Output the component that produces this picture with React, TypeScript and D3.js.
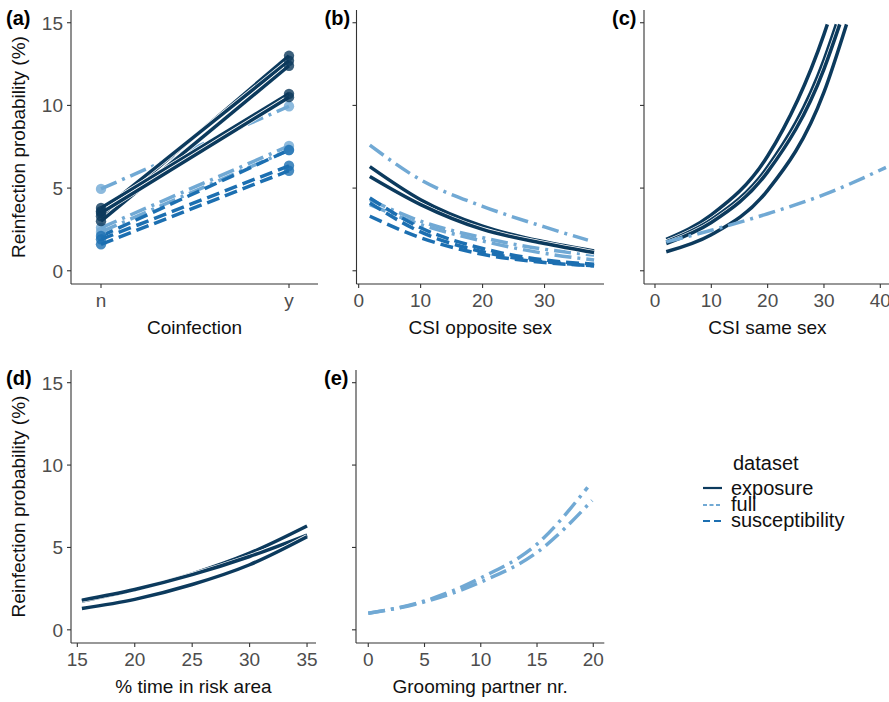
import React from "react";
import * as d3 from "d3";

// datasets / styling
const datasets = ["exposure", "full", "susceptibility"];
const colors: Record<string, string> = {
  exposure: "#0c3a5d",
  full: "#71a9d4",
  susceptibility: "#1c6fb1",
};
const dashes: Record<string, string | undefined> = {
  exposure: undefined,
  full: "17 6 3 6",
  susceptibility: "13 6",
};
const keyDashes: Record<string, string | undefined> = {
  exposure: undefined,
  full: "4 2.5",
  susceptibility: "7 4",
};

const yTicks = [0, 5, 10, 15];

// (a) coinfection: [n, y] per fitted line
const coinfCats = ["n", "y"];
const coinfExposure = [[3.3, 13.0], [3.6, 12.7], [3.0, 12.4], [3.8, 10.7], [3.5, 10.5]];
const coinfFull = [[4.95, 9.95], [2.6, 7.55], [2.35, 7.3]];
const coinfSusc = [[2.1, 7.3], [1.9, 6.35], [1.6, 6.05]];

// (b) CSI opposite sex
const oppX = [1.8, 10, 20, 30, 38];
const oppExposure = [
  [6.3, 4.3, 2.7, 1.75, 1.2],
  [5.7, 4.0, 2.5, 1.65, 1.1],
];
const oppFull = [
  [7.6, 5.5, 3.9, 2.65, 1.85],
  [4.3, 3.0, 2.0, 1.3, 0.95],
  [4.0, 2.8, 1.8, 1.05, 0.65],
];
const oppSusc = [
  [4.4, 2.6, 1.35, 0.65, 0.4],
  [4.1, 2.35, 1.15, 0.55, 0.3],
  [3.3, 2.0, 1.0, 0.5, 0.3],
];

// (c) CSI same sex, [x, y] pairs
const sameExposure: [number, number][][] = [
  [[2, 1.9], [10, 3.38], [20, 6.94], [30, 14.3], [30.6, 14.9]],
  [[2, 1.75], [10, 3.09], [20, 6.27], [30, 12.74], [32.2, 14.9]],
  [[2, 1.65], [10, 2.92], [20, 5.98], [30, 12.2], [32.8, 14.9]],
  [[2, 1.15], [10, 2.18], [20, 4.86], [30, 10.8], [34.0, 14.9]],
];
const sameFull: [number, number][][] = [
  [[2, 1.75], [10, 2.45], [20, 3.45], [30, 4.6], [41, 6.25]],
];

// (d) % time in risk area
const riskX = [15.4, 20, 25, 30, 35];
const riskExposure = [
  [1.75, 2.45, 3.4, 4.65, 6.3],
  [1.8, 2.45, 3.35, 4.45, 5.75],
  [1.3, 1.85, 2.75, 3.95, 5.65],
];

// (e) grooming partner nr.
const groomFull: [number, number][][] = [
  [[0, 1.0], [5, 1.75], [10, 3.15], [15, 5.2], [19.5, 8.65]],
  [[0, 1.0], [5, 1.7], [10, 2.9], [15, 4.7], [19.9, 7.85]],
];

const FONT = "'Liberation Sans', Arial, Helvetica, sans-serif";
const zip = (xs: number[], ys: number[]) => xs.map((x, i) => [x, ys[i]] as [number, number]);

type Line = { ds: string; pts: [number, number][] };

interface PanelDef {
  tag: string;
  title: string;
  left: number;
  right: number;
  top: number;
  bottom: number;
  x: (v: number) => number;
  xTicks: { v: number; label: string }[];
  yLabels: boolean;
  lines: Line[];
  points?: boolean;
}

const yScale = (top: number, bottom: number) =>
  d3.scaleLinear().domain([-0.8, 15.77]).range([bottom, top]);

const catScale = d3.scalePoint<string>().domain(coinfCats).range([101, 289]);
const catX = (v: number) => catScale(coinfCats[v]) as number;

const xb = d3.scaleLinear().domain([-0.35, 39.6]).range([356.5, 604]);
const xc = d3.scaleLinear().domain([-1.95, 41.9]).range([644, 891]);
const xd = d3.scaleLinear().domain([14.45, 35.78]).range([71, 316]);
const xe = d3.scaleLinear().domain([-1.09, 20.98]).range([356, 604.3]);

const order = ["full", "susceptibility", "exposure"];
const byOrder = (ls: Line[]) =>
  ls.slice().sort((a, b) => order.indexOf(a.ds) - order.indexOf(b.ds));

const panels: PanelDef[] = [
  {
    tag: "(a)", title: "Coinfection", left: 71, right: 318, top: 10, bottom: 284,
    x: catX, xTicks: coinfCats.map((c, i) => ({ v: i, label: c })), yLabels: true, points: true,
    lines: [
      ...coinfFull.map((l) => ({ ds: "full", pts: zip([0, 1], l) })),
      ...coinfSusc.map((l) => ({ ds: "susceptibility", pts: zip([0, 1], l) })),
      ...coinfExposure.map((l) => ({ ds: "exposure", pts: zip([0, 1], l) })),
    ],
  },
  {
    tag: "(b)", title: "CSI opposite sex", left: 356.5, right: 604, top: 10, bottom: 284,
    x: xb, xTicks: [0, 10, 20, 30].map((v) => ({ v, label: String(v) })), yLabels: false,
    lines: [
      ...oppFull.map((l) => ({ ds: "full", pts: zip(oppX.map((x, i) => (i === 4 && l[0] > 7 ? 37 : x)), l) })),
      ...oppSusc.map((l) => ({ ds: "susceptibility", pts: zip(oppX, l) })),
      ...oppExposure.map((l) => ({ ds: "exposure", pts: zip(oppX, l) })),
    ],
  },
  {
    tag: "(c)", title: "CSI same sex", left: 644, right: 891, top: 10, bottom: 284,
    x: xc, xTicks: [0, 10, 20, 30, 40].map((v) => ({ v, label: String(v) })), yLabels: false,
    lines: [
      ...sameExposure.map((pts) => ({ ds: "exposure", pts })),
      ...sameFull.map((pts) => ({ ds: "full", pts })),
    ],
  },
  {
    tag: "(d)", title: "% time in risk area", left: 71, right: 316, top: 370, bottom: 643,
    x: xd, xTicks: [15, 20, 25, 30, 35].map((v) => ({ v, label: String(v) })), yLabels: true,
    lines: riskExposure.map((l) => ({ ds: "exposure", pts: zip(riskX, l) })),
  },
  {
    tag: "(e)", title: "Grooming partner nr.", left: 356, right: 604.3, top: 370, bottom: 643,
    x: xe, xTicks: [0, 5, 10, 15, 20].map((v) => ({ v, label: String(v) })), yLabels: false,
    lines: groomFull.map((pts) => ({ ds: "full", pts })),
  },
];

const LW = 3.5;

function Panel({ p }: { p: PanelDef }) {
  const y = yScale(p.top, p.bottom);
  const line = d3
    .line<[number, number]>()
    .x((d) => p.x(d[0]))
    .y((d) => y(d[1]))
    .curve(d3.curveMonotoneX);
  const lines = p.tag === "(c)" ? p.lines : byOrder(p.lines);
  const tagX = p.left < 100 ? 6 : p.left - 32;
  return (
    <g>
      {lines.map((l, i) => (
        <g key={i}>
          {l.ds === "exposure" && (
            <path d={line(l.pts) || ""} fill="none" stroke="#fff" strokeWidth={LW + 1.4} />
          )}
          <path
            d={line(l.pts) || ""}
            fill="none"
            stroke={colors[l.ds]}
            strokeWidth={LW}
            strokeDasharray={dashes[l.ds]}
          />
        </g>
      ))}
      {p.points &&
        byOrder(p.lines).map((l, i) =>
          l.pts.map((d, j) => (
            <circle key={`${i}-${j}`} cx={p.x(d[0])} cy={y(d[1])} r={5.2}
              fill={colors[l.ds]} fillOpacity={0.8} />
          ))
        )}
      {/* axes */}
      <line x1={p.left} x2={p.left} y1={p.top} y2={p.bottom} stroke="#333" strokeWidth={1.1} />
      <line x1={p.left} x2={p.right} y1={p.bottom} y2={p.bottom} stroke="#333" strokeWidth={1.1} />
      {yTicks.map((t) => (
        <g key={t}>
          <line x1={p.left - 4} x2={p.left} y1={y(t)} y2={y(t)} stroke="#333" strokeWidth={1.1} />
          {p.yLabels && (
            <text x={p.left - 8} y={y(t)} dy="0.36em" textAnchor="end" fontSize={19} fill="#4d4d4d">
              {t}
            </text>
          )}
        </g>
      ))}
      {p.xTicks.map((t) => (
        <g key={t.label}>
          <line x1={p.x(t.v)} x2={p.x(t.v)} y1={p.bottom} y2={p.bottom + 4} stroke="#333" strokeWidth={1.1} />
          <text x={p.x(t.v)} y={p.bottom + 23} textAnchor="middle" fontSize={19} fill="#4d4d4d">
            {t.label}
          </text>
        </g>
      ))}
      <text x={(p.left + p.right) / 2} y={p.bottom + 50} textAnchor="middle" fontSize={19} fill="#111">
        {p.title}
      </text>
      {p.yLabels && (
        <text
          transform={`translate(25,${(p.top + p.bottom) / 2}) rotate(-90)`}
          textAnchor="middle"
          fontSize={19}
          fill="#111"
        >
          Reinfection probability (%)
        </text>
      )}
      <text x={tagX} y={p.top + 15} fontSize={20} fontWeight="bold" fill="#000">
        {p.tag}
      </text>
    </g>
  );
}

function Legend() {
  const keyY = [488, 505, 521];
  const labY = [495, 511, 527];
  return (
    <g>
      <text x={733} y={470} fontSize={20} fill="#111">dataset</text>
      {datasets.map((ds, i) => (
        <g key={ds}>
          <line x1={703} x2={722} y1={keyY[i]} y2={keyY[i]} stroke={colors[ds]}
            strokeWidth={2.2} strokeDasharray={keyDashes[ds]} />
          <text x={731} y={labY[i]} fontSize={20} fill="#111">{ds}</text>
        </g>
      ))}
    </g>
  );
}

export default function App() {
  return (
    <svg
      width={889}
      height={702}
      style={{ position: "absolute", left: 0, top: 0, background: "#fff" }}
      fontFamily={FONT}
    >
      <rect width={889} height={702} fill="#fff" />
      {panels.map((p) => (
        <Panel key={p.tag} p={p} />
      ))}
      <Legend />
    </svg>
  );
}
